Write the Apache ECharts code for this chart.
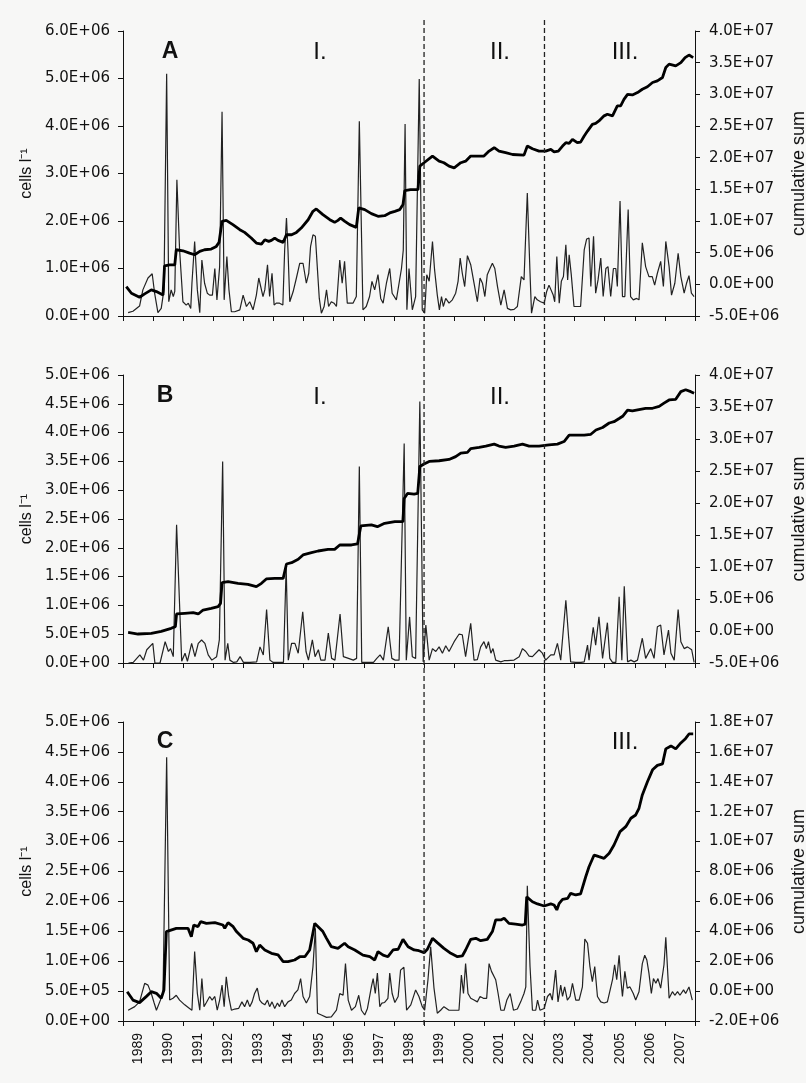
<!DOCTYPE html>
<html>
<head>
<meta charset="utf-8">
<script src="https://cdn.jsdelivr.net/npm/echarts@6/dist/echarts.min.js"></script>
<style>
  html, body { margin: 0; padding: 0; background: #f7f7f6; }
  #chart { width: 806px; height: 1083px; }
</style>
</head>
<body>
<div id="chart"></div>
<script>
// Year categories shown under the bottom panel
const YEARS = ['1989','1990','1991','1992','1993','1994','1995','1996','1997','1998',
               '1999','2000','2001','2002','2003','2004','2005','2006','2007'];

// Regime boundaries (start of 1999 and of 2003)
const BREAKS = [1999, 2003];

// Panel A: cell density (millions cells/l) and cumulative sum (millions), [year, value]
const cellsA = [
  [1989.17,0.07],[1989.33,0.10],[1989.55,0.21],[1989.66,0.55],[1989.83,0.80],[1989.97,0.89],
  [1990.05,0.48],[1990.16,0.07],[1990.27,0.16],[1990.36,0.55],[1990.45,5.10],[1990.52,0.30],
  [1990.60,0.55],[1990.67,0.41],[1990.72,0.52],[1990.79,2.87],[1990.88,1.39],[1990.99,0.30],
  [1991.10,0.23],[1991.17,0.27],[1991.25,0.16],[1991.29,0.69],[1991.38,1.57],[1991.47,0.55],
  [1991.55,0.07],[1991.62,1.18],[1991.71,0.69],[1991.80,0.48],[1991.88,0.44],[1991.97,0.44],
  [1992.05,1.00],[1992.12,0.34],[1992.21,1.04],[1992.29,4.30],[1992.36,0.34],[1992.45,1.25],
  [1992.52,0.55],[1992.60,0.09],[1992.71,0.09],[1992.88,0.13],[1992.99,0.44],[1993.10,0.20],
  [1993.21,0.30],[1993.32,0.13],[1993.43,0.44],[1993.51,0.80],[1993.57,0.80],[1993.65,0.41],
  [1993.71,0.55],[1993.80,1.08],[1993.87,0.41],[1993.95,0.90],[1994.02,0.23],[1994.09,0.27],
  [1994.20,0.27],[1994.31,0.23],[1994.37,1.39],[1994.43,2.06],[1994.48,1.39],[1994.54,0.30],
  [1994.65,0.51],[1994.76,0.80],[1994.87,1.11],[1994.98,1.11],[1995.09,0.69],[1995.17,0.90],
  [1995.23,1.46],[1995.31,1.71],[1995.39,1.68],[1995.46,0.97],[1995.52,0.37],[1995.59,0.06],
  [1995.68,0.20],[1995.76,0.55],[1995.83,0.20],[1995.92,0.30],[1996.01,0.27],[1996.09,0.20],
  [1996.20,1.18],[1996.28,0.69],[1996.36,1.15],[1996.45,0.27],[1996.54,0.27],[1996.64,0.27],
  [1996.75,0.41],[1996.85,4.10],[1996.97,0.13],[1997.08,0.20],[1997.19,0.41],[1997.27,0.73],
  [1997.36,0.55],[1997.47,0.87],[1997.56,0.37],[1997.64,0.27],[1997.75,0.69],[1997.86,1.00],
  [1997.94,0.48],[1998.08,0.34],[1998.25,1.00],[1998.31,1.39],[1998.37,4.04],[1998.43,0.13],
  [1998.50,1.00],[1998.61,0.13],[1998.72,0.41],[1998.84,4.99],[1998.94,0.13],[1999.02,0.06],
  [1999.09,0.87],[1999.17,0.73],[1999.28,1.57],[1999.35,0.97],[1999.44,0.44],[1999.51,0.13],
  [1999.58,0.41],[1999.64,0.20],[1999.72,0.37],[1999.83,0.27],[1999.94,0.34],[2000.05,0.48],
  [2000.13,0.73],[2000.20,1.22],[2000.27,0.90],[2000.35,0.62],[2000.44,1.27],[2000.55,1.08],
  [2000.66,0.69],[2000.77,0.30],[2000.86,0.80],[2000.94,0.69],[2001.02,0.41],[2001.10,0.87],
  [2001.19,1.00],[2001.27,1.11],[2001.35,1.00],[2001.44,0.62],[2001.55,0.23],[2001.66,0.55],
  [2001.77,0.16],[2001.88,0.13],[2001.99,0.14],[2002.10,0.20],[2002.23,0.83],[2002.32,0.76],
  [2002.43,2.59],[2002.52,0.90],[2002.57,0.06],[2002.68,0.41],[2002.76,0.34],[2002.87,0.30],
  [2002.99,0.27],[2003.07,0.51],[2003.15,0.65],[2003.21,0.69],[2003.29,0.44],[2003.34,0.30],
  [2003.41,1.25],[2003.49,0.27],[2003.56,0.73],[2003.63,0.83],[2003.71,1.50],[2003.77,0.76],
  [2003.82,1.29],[2003.89,0.87],[2003.98,0.20],[2004.09,0.20],[2004.20,0.20],[2004.32,1.39],
  [2004.40,1.62],[2004.48,1.64],[2004.54,0.62],[2004.63,1.68],[2004.70,0.48],[2004.78,0.76],
  [2004.87,1.22],[2004.95,0.41],[2005.04,1.00],[2005.11,1.04],[2005.20,0.41],[2005.29,1.00],
  [2005.37,1.00],[2005.42,0.62],[2005.51,2.42],[2005.59,0.41],[2005.67,0.41],[2005.78,2.24],
  [2005.86,0.41],[2005.95,0.34],[2006.06,0.37],[2006.14,0.34],[2006.25,1.54],[2006.36,1.04],
  [2006.47,0.83],[2006.58,0.83],[2006.66,0.65],[2006.75,0.90],[2006.86,1.15],[2006.95,0.62],
  [2007.03,1.57],[2007.14,1.04],[2007.22,0.44],[2007.33,0.69],[2007.44,1.32],[2007.53,0.83],
  [2007.64,0.48],[2007.72,0.69],[2007.80,0.85],[2007.88,0.48],[2007.97,0.41]
];
const cusumA = [
  [1989.11,-0.35],[1989.28,-1.41],[1989.55,-2.04],[1989.72,-1.51],[1989.94,-0.88],[1990.11,-1.14],
  [1990.33,-1.67],[1990.38,2.92],[1990.55,3.08],[1990.72,3.08],[1990.77,5.46],[1990.99,5.30],
  [1991.21,4.93],[1991.38,4.67],[1991.55,5.20],[1991.71,5.46],[1991.93,5.57],[1992.10,5.99],
  [1992.19,6.62],[1992.29,9.95],[1992.43,10.10],[1992.65,9.42],[1992.88,8.63],[1993.04,8.20],
  [1993.26,7.31],[1993.43,6.51],[1993.60,6.36],[1993.71,7.04],[1993.84,6.78],[1993.93,6.94],
  [1994.04,7.31],[1994.15,6.94],[1994.32,6.62],[1994.43,7.83],[1994.60,7.83],[1994.76,8.20],
  [1994.92,8.89],[1995.15,10.20],[1995.31,11.53],[1995.42,11.90],[1995.64,11.00],[1995.87,10.20],
  [1996.03,9.79],[1996.14,10.10],[1996.23,10.47],[1996.37,9.95],[1996.53,9.42],[1996.75,9.00],
  [1996.83,12.06],[1997.03,11.79],[1997.25,11.16],[1997.47,10.74],[1997.69,10.84],[1997.86,11.27],
  [1998.03,11.53],[1998.19,11.79],[1998.30,12.59],[1998.36,14.80],[1998.55,14.96],[1998.80,14.96],
  [1998.86,18.66],[1999.00,19.20],[1999.28,20.25],[1999.50,19.45],[1999.66,19.20],[1999.83,18.66],
  [2000.00,18.40],[2000.22,19.20],[2000.38,19.45],[2000.55,20.25],[2000.77,20.25],[2000.99,20.25],
  [2001.16,21.04],[2001.33,21.57],[2001.49,21.04],[2001.71,20.78],[2001.94,20.50],[2002.32,20.40],
  [2002.43,21.83],[2002.60,21.40],[2002.82,21.04],[2003.04,21.04],[2003.21,21.30],[2003.32,20.90],
  [2003.46,21.04],[2003.60,21.83],[2003.71,22.36],[2003.82,22.25],[2003.93,22.89],[2004.09,22.36],
  [2004.20,22.45],[2004.32,23.42],[2004.43,24.20],[2004.59,25.26],[2004.70,25.40],[2004.81,25.80],
  [2004.98,26.60],[2005.09,26.85],[2005.26,26.60],[2005.42,28.17],[2005.53,28.17],[2005.64,29.20],
  [2005.76,30.00],[2005.92,29.90],[2006.09,30.28],[2006.25,30.80],[2006.42,31.20],[2006.59,31.87],
  [2006.75,32.13],[2006.92,32.66],[2007.03,34.24],[2007.14,34.77],[2007.36,34.50],[2007.53,35.00],
  [2007.67,35.80],[2007.80,36.20],[2007.94,35.80]
];

// Panel B
const cellsB = [
  [1989.18,0.00],[1989.34,0.01],[1989.56,0.14],[1989.68,0.05],[1989.79,0.23],[1989.99,0.34],
  [1990.06,0.00],[1990.23,0.00],[1990.40,0.37],[1990.51,0.20],[1990.58,0.25],[1990.67,0.11],
  [1990.78,2.40],[1990.95,0.03],[1991.06,0.17],[1991.14,0.03],[1991.28,0.34],[1991.39,0.11],
  [1991.50,0.34],[1991.61,0.40],[1991.72,0.34],[1991.83,0.14],[1991.95,0.05],[1992.11,0.11],
  [1992.20,0.40],[1992.31,3.50],[1992.39,0.05],[1992.48,0.34],[1992.55,0.05],[1992.67,0.01],
  [1992.78,0.02],[1992.89,0.11],[1993.00,0.01],[1993.22,0.01],[1993.44,0.02],[1993.55,0.28],
  [1993.66,0.14],[1993.77,0.93],[1993.88,0.05],[1993.99,0.01],[1994.22,0.01],[1994.33,0.01],
  [1994.42,1.67],[1994.49,0.05],[1994.60,0.34],[1994.71,0.34],[1994.82,0.17],[1994.97,0.89],
  [1995.08,0.20],[1995.16,0.05],[1995.29,0.40],[1995.38,0.11],[1995.49,0.23],[1995.57,0.05],
  [1995.71,0.05],[1995.82,0.52],[1995.93,0.08],[1996.04,0.05],[1996.21,0.85],[1996.32,0.11],
  [1996.49,0.08],[1996.65,0.05],[1996.76,0.08],[1996.85,3.41],[1996.93,0.01],[1997.10,0.01],
  [1997.32,0.01],[1997.43,0.08],[1997.54,0.14],[1997.65,0.05],[1997.81,0.63],[1997.93,0.08],
  [1998.04,0.05],[1998.17,0.05],[1998.34,3.81],[1998.41,0.05],[1998.52,0.80],[1998.61,0.11],
  [1998.72,0.08],[1998.86,4.54],[1998.97,0.02],[1999.06,0.66],[1999.17,0.05],[1999.28,0.25],
  [1999.39,0.20],[1999.50,0.28],[1999.61,0.17],[1999.72,0.30],[1999.83,0.20],[2000.00,0.37],
  [2000.16,0.50],[2000.27,0.49],[2000.38,0.11],[2000.55,0.69],[2000.66,0.05],[2000.77,0.06],
  [2000.88,0.28],[2000.99,0.37],[2001.07,0.25],[2001.14,0.37],[2001.22,0.17],[2001.29,0.25],
  [2001.38,0.05],[2001.55,0.02],[2001.66,0.04],[2001.77,0.04],[2001.99,0.05],[2002.16,0.11],
  [2002.27,0.25],[2002.38,0.20],[2002.49,0.12],[2002.60,0.11],[2002.82,0.23],[2002.93,0.17],
  [2003.04,0.05],[2003.21,0.14],[2003.32,0.14],[2003.43,0.34],[2003.54,0.05],[2003.71,1.09],
  [2003.80,0.46],[2003.87,0.02],[2004.04,0.01],[2004.21,0.01],[2004.32,0.02],[2004.43,0.31],
  [2004.48,0.05],[2004.62,0.62],[2004.70,0.31],[2004.81,0.80],[2004.93,0.08],[2005.09,0.70],
  [2005.17,0.08],[2005.26,0.01],[2005.37,0.01],[2005.48,1.15],[2005.57,0.05],[2005.65,1.33],
  [2005.76,0.02],[2005.87,0.05],[2005.98,0.02],[2006.09,0.05],[2006.25,0.43],[2006.36,0.08],
  [2006.53,0.25],[2006.64,0.08],[2006.75,0.63],[2006.86,0.66],[2006.97,0.14],[2007.12,0.57],
  [2007.20,0.17],[2007.31,0.05],[2007.44,0.93],[2007.53,0.37],[2007.64,0.25],[2007.75,0.28],
  [2007.89,0.23],[2007.97,0.01]
];
const cusumB = [
  [1989.17,-0.21],[1989.50,-0.47],[1989.94,-0.36],[1990.27,-0.05],[1990.60,0.42],[1990.74,0.68],
  [1990.78,2.66],[1991.05,2.76],[1991.33,2.86],[1991.50,2.66],[1991.66,3.28],[1991.93,3.54],
  [1992.16,3.80],[1992.24,4.32],[1992.29,7.55],[1992.49,7.70],[1992.82,7.45],[1993.15,7.30],
  [1993.43,6.93],[1993.60,7.45],[1993.76,8.13],[1994.04,8.23],[1994.32,8.23],[1994.43,10.47],
  [1994.60,10.68],[1994.82,11.20],[1994.98,11.88],[1995.26,12.24],[1995.48,12.50],[1995.81,12.76],
  [1996.03,12.76],[1996.20,13.44],[1996.59,13.44],[1996.79,13.60],[1996.90,16.41],[1997.25,16.57],
  [1997.45,16.30],[1997.69,16.83],[1998.03,17.09],[1998.30,17.09],[1998.34,20.70],[1998.45,21.50],
  [1998.67,21.40],[1998.79,21.50],[1998.86,25.70],[1999.00,26.10],[1999.17,26.50],[1999.50,26.60],
  [1999.83,26.80],[2000.05,27.25],[2000.22,27.80],[2000.44,27.90],[2000.55,28.50],[2000.83,28.70],
  [2001.05,28.90],[2001.33,29.20],[2001.49,28.90],[2001.71,28.70],[2001.99,28.90],[2002.27,29.20],
  [2002.49,28.90],[2002.82,28.90],[2003.15,29.07],[2003.43,29.20],[2003.65,29.60],[2003.82,30.60],
  [2004.04,30.60],[2004.32,30.60],[2004.54,30.74],[2004.71,31.40],[2004.93,31.80],[2005.15,32.50],
  [2005.31,32.70],[2005.48,33.20],[2005.61,33.60],[2005.76,34.50],[2005.92,34.40],[2006.14,34.60],
  [2006.36,34.80],[2006.59,34.80],[2006.81,35.10],[2006.97,35.60],[2007.14,36.10],[2007.36,36.20],
  [2007.53,37.40],[2007.69,37.70],[2007.86,37.40],[2007.97,37.15]
];

// Panel C
const cellsC = [
  [1989.17,0.18],[1989.39,0.24],[1989.55,0.32],[1989.72,0.63],[1989.83,0.60],[1989.94,0.46],
  [1990.03,0.31],[1990.11,0.18],[1990.22,0.32],[1990.33,0.46],[1990.45,4.41],[1990.55,0.35],
  [1990.66,0.38],[1990.77,0.43],[1990.88,0.35],[1991.05,0.27],[1991.21,0.21],[1991.29,0.18],
  [1991.38,1.16],[1991.47,0.46],[1991.55,0.18],[1991.62,0.71],[1991.69,0.24],[1991.77,0.31],
  [1991.88,0.41],[1991.96,0.35],[1992.05,0.41],[1992.13,0.18],[1992.21,0.35],[1992.29,0.60],
  [1992.36,0.24],[1992.43,0.74],[1992.51,0.41],[1992.60,0.18],[1992.71,0.20],[1992.84,0.21],
  [1992.95,0.32],[1993.04,0.24],[1993.13,0.35],[1993.21,0.24],[1993.29,0.32],[1993.37,0.46],
  [1993.46,0.55],[1993.54,0.35],[1993.62,0.30],[1993.71,0.27],[1993.80,0.35],[1993.87,0.24],
  [1993.95,0.32],[1994.04,0.21],[1994.13,0.30],[1994.20,0.24],[1994.28,0.35],[1994.37,0.24],
  [1994.48,0.32],[1994.59,0.35],[1994.70,0.46],[1994.81,0.52],[1994.90,0.71],[1994.98,0.41],
  [1995.09,0.30],[1995.20,0.41],[1995.31,0.91],[1995.39,1.55],[1995.46,0.13],[1995.59,0.10],
  [1995.76,0.06],[1995.92,0.07],[1996.09,0.18],[1996.20,0.46],[1996.31,0.43],[1996.39,0.96],
  [1996.48,0.35],[1996.59,0.18],[1996.72,0.24],[1996.83,0.43],[1996.92,0.18],[1997.03,0.10],
  [1997.12,0.21],[1997.25,0.57],[1997.31,0.71],[1997.38,0.46],[1997.45,0.80],[1997.53,0.24],
  [1997.60,0.30],[1997.69,0.31],[1997.80,0.38],[1997.86,0.80],[1997.94,0.46],[1998.03,0.31],
  [1998.14,0.41],[1998.22,0.85],[1998.33,0.90],[1998.42,0.18],[1998.56,0.27],[1998.72,0.52],
  [1998.83,0.41],[1998.94,0.24],[1999.02,0.18],[1999.13,0.69],[1999.22,1.24],[1999.33,0.55],
  [1999.44,0.13],[1999.55,0.18],[1999.66,0.24],[1999.83,0.18],[1999.99,0.18],[2000.16,0.18],
  [2000.24,0.77],[2000.31,0.46],[2000.38,0.96],[2000.46,0.46],[2000.55,0.38],[2000.66,0.35],
  [2000.77,0.32],[2000.86,0.41],[2000.97,0.38],[2001.08,0.38],[2001.16,0.96],[2001.24,0.83],
  [2001.30,0.83],[2001.38,0.69],[2001.46,0.46],[2001.55,0.18],[2001.66,0.18],[2001.75,0.35],
  [2001.86,0.46],[2001.97,0.18],[2002.10,0.20],[2002.21,0.32],[2002.32,0.46],[2002.38,0.57],
  [2002.43,2.26],[2002.52,0.91],[2002.60,0.18],[2002.71,0.18],[2002.77,0.35],[2002.85,0.18],
  [2002.99,0.21],[2003.10,0.41],[2003.19,0.46],[2003.26,0.35],[2003.37,0.85],[2003.45,0.32],
  [2003.54,0.60],[2003.60,0.41],[2003.67,0.57],[2003.76,0.35],[2003.85,0.41],[2003.93,0.63],
  [2004.04,0.35],[2004.15,0.35],[2004.26,0.57],[2004.34,1.37],[2004.43,1.30],[2004.51,0.91],
  [2004.59,0.66],[2004.67,0.91],[2004.76,0.41],[2004.87,0.32],[2004.98,0.30],[2005.09,0.32],
  [2005.26,0.69],[2005.33,0.94],[2005.40,0.69],[2005.48,1.10],[2005.53,0.74],[2005.59,0.41],
  [2005.67,0.83],[2005.75,0.55],[2005.84,0.57],[2005.95,0.46],[2006.03,0.35],[2006.14,0.49],
  [2006.25,0.96],[2006.33,1.10],[2006.40,1.02],[2006.47,0.80],[2006.55,0.46],[2006.62,0.71],
  [2006.70,0.63],[2006.77,0.71],[2006.86,0.55],[2006.97,0.94],[2007.03,1.40],[2007.14,0.38],
  [2007.25,0.49],[2007.33,0.43],[2007.42,0.49],[2007.50,0.43],[2007.62,0.52],[2007.69,0.46],
  [2007.80,0.57],[2007.91,0.35]
];
const cusumC = [
  [1989.14,-0.04],[1989.33,-0.60],[1989.55,-0.77],[1989.77,-0.37],[1989.94,-0.04],[1990.11,-0.15],
  [1990.27,-0.48],[1990.36,0.07],[1990.44,3.98],[1990.77,4.20],[1991.16,4.20],[1991.27,3.64],
  [1991.35,4.42],[1991.49,4.31],[1991.58,4.65],[1991.77,4.53],[1992.05,4.58],[1992.32,4.42],
  [1992.38,4.20],[1992.49,4.58],[1992.66,4.31],[1992.77,3.98],[1992.99,3.53],[1993.16,3.42],
  [1993.32,3.20],[1993.43,2.64],[1993.54,3.08],[1993.71,2.75],[1993.93,2.53],[1994.15,2.42],
  [1994.32,1.97],[1994.48,1.97],[1994.70,2.08],[1994.87,2.30],[1995.04,2.30],[1995.20,2.75],
  [1995.37,4.53],[1995.48,4.31],[1995.64,3.98],[1995.76,3.53],[1995.92,2.97],[1996.14,2.86],
  [1996.36,3.20],[1996.48,2.97],[1996.70,2.75],[1996.97,2.41],[1997.20,2.30],[1997.36,2.08],
  [1997.47,2.64],[1997.64,2.41],[1997.80,2.30],[1997.97,2.75],[1998.14,2.80],[1998.30,3.46],
  [1998.47,2.97],[1998.67,2.75],[1998.83,2.70],[1999.00,2.57],[1999.11,2.80],[1999.28,3.53],
  [1999.44,3.24],[1999.66,2.86],[1999.89,2.53],[2000.11,2.30],[2000.27,2.35],[2000.38,2.75],
  [2000.55,3.46],[2000.72,3.53],[2000.88,3.37],[2001.10,3.46],[2001.27,3.98],[2001.38,4.76],
  [2001.55,4.76],[2001.66,4.87],[2001.82,4.53],[2002.04,4.48],[2002.27,4.42],[2002.36,4.48],
  [2002.41,6.30],[2002.60,5.98],[2002.77,5.83],[2002.99,5.69],[2003.21,5.83],[2003.32,5.76],
  [2003.41,5.43],[2003.49,5.87],[2003.60,6.14],[2003.77,6.20],[2003.87,6.54],[2004.04,6.43],
  [2004.20,6.50],[2004.37,7.65],[2004.48,8.32],[2004.65,9.10],[2004.81,8.99],[2004.98,8.88],
  [2005.15,9.22],[2005.31,9.77],[2005.51,10.67],[2005.70,11.00],[2005.87,11.56],[2006.03,11.78],
  [2006.14,12.23],[2006.25,13.12],[2006.42,14.00],[2006.59,14.80],[2006.75,15.10],[2006.92,15.20],
  [2007.03,16.20],[2007.20,16.40],[2007.36,16.20],[2007.53,16.60],[2007.69,16.90],[2007.80,17.20],
  [2007.94,17.20]
];

// Scientific tick labels such as 5.0E+06 (axis values are in millions)
function sci(v) {
  if (Math.abs(v) < 1e-9) return '0.0E+00';
  const sign = v < 0 ? '-' : '';
  const a = Math.abs(v);
  let e = Math.floor(Math.log10(a) + 1e-9);
  let m = (a / Math.pow(10, e)).toFixed(1);
  if (m === '10.0') { e += 1; m = '1.0'; }
  return sign + m + 'E' + (e < 0 ? '-' : '+') + String(Math.abs(e)).padStart(2, '0');
}

const TEXT_FONT = 'Liberation Sans, Arial, sans-serif';
const TICK_FONT = 'DejaVu Sans, Liberation Sans, sans-serif';
const INK = '#111';

const panels = [
  { top: 31,  height: 285, leftMax: 6, leftStep: 1,   rightMin: -5, rightMax: 40, rightStep: 5,
    cells: cellsA, cusum: cusumA, years: false },
  { top: 375, height: 288, leftMax: 5, leftStep: 0.5, rightMin: -5, rightMax: 40, rightStep: 5,
    cells: cellsB, cusum: cusumB, years: false },
  { top: 722, height: 299, leftMax: 5, leftStep: 0.5, rightMin: -2, rightMax: 18, rightStep: 2,
    cells: cellsC, cusum: cusumC, years: true }
];

const lineStyleAxis = { color: INK, width: 1 };
const axisTick = { show: true, length: 5, lineStyle: { color: INK, width: 1 } };
const tickLabel = {
  fontFamily: TICK_FONT, fontSize: 15, color: INK,
  showMinLabel: true, showMaxLabel: true,
  formatter: v => sci(v * 1e6)
};

const grid = [], xAxis = [], yAxis = [], series = [];
panels.forEach((p, i) => {
  grid.push({ left: 123, right: 111, top: p.top, height: p.height, outerBoundsMode: 'none' });
  // hidden numeric time axis carrying the data
  xAxis.push({ type: 'value', gridIndex: i, position: 'top', min: 1989, max: 2008, show: false });
  // visible year axis: ticks at year boundaries, labels centred in each year
  xAxis.push({
    type: 'category', gridIndex: i, position: 'bottom', data: YEARS, boundaryGap: true,
    axisLine: { show: true, onZero: false, lineStyle: lineStyleAxis },
    axisTick: Object.assign({ interval: 0 }, axisTick),
    axisLabel: { show: p.years, interval: 0, rotate: 90, margin: 12,
                 fontFamily: TEXT_FONT, fontSize: 14, color: INK },
    splitLine: { show: false }
  });
  yAxis.push({
    type: 'value', gridIndex: i, position: 'left', min: 0, max: p.leftMax, interval: p.leftStep,
    axisLine: { show: true, onZero: false, lineStyle: lineStyleAxis },
    axisTick, splitLine: { show: false },
    axisLabel: Object.assign({ margin: 13 }, tickLabel),
    name: 'cells l\u207B\u00B9', nameLocation: 'middle', nameRotate: 90, nameGap: 88,
    nameTextStyle: { fontFamily: TEXT_FONT, fontSize: 16, color: INK }
  });
  yAxis.push({
    type: 'value', gridIndex: i, position: 'right', min: p.rightMin, max: p.rightMax, interval: p.rightStep,
    axisLine: { show: true, onZero: false, lineStyle: lineStyleAxis },
    axisTick, splitLine: { show: false },
    axisLabel: Object.assign({ margin: 14 }, tickLabel),
    name: 'cumulative sum', nameLocation: 'middle', nameRotate: 90, nameGap: 95,
    nameTextStyle: { fontFamily: TEXT_FONT, fontSize: 18, color: INK }
  });
  series.push({
    type: 'line', xAxisIndex: 2 * i, yAxisIndex: 2 * i, data: p.cells,
    symbol: 'none', lineStyle: { color: '#222', width: 1.2 }, z: 2
  });
  series.push({
    type: 'line', xAxisIndex: 2 * i, yAxisIndex: 2 * i + 1, data: p.cusum,
    symbol: 'none', lineStyle: { color: '#000', width: 2.8 }, z: 3
  });
});

const chart = echarts.init(document.getElementById('chart'), null, { renderer: 'canvas' });
chart.setOption({
  backgroundColor: '#f7f7f6',
  animation: false,
  grid, xAxis, yAxis, series
});

// Regime boundaries drawn through all three panels, plus panel letters and regime numerals
const graphic = [];
BREAKS.forEach(yr => {
  const x = chart.convertToPixel({ xAxisIndex: 0 }, yr);
  graphic.push({
    type: 'line', z: 10, silent: true,
    shape: { x1: x, y1: 20, x2: x, y2: 1028 },
    style: { stroke: '#222', lineWidth: 1.3, lineDash: [5, 3] }
  });
});
const labels = [
  ['A', 170, 52, true], ['I.', 320, 52, false], ['II.', 500, 52, false], ['III.', 625, 52, false],
  ['B', 165, 396, true], ['I.', 320, 397, false], ['II.', 500, 397, false],
  ['C', 165, 742, true], ['III.', 625, 742, false]
];
labels.forEach(([t, x, y, bold]) => {
  graphic.push({
    type: 'text', z: 10, silent: true, x, y,
    style: {
      text: t, fill: INK,
      font: (bold ? 'bold 23px ' : '24px ') + TEXT_FONT,
      textAlign: 'center', textVerticalAlign: 'middle',
      align: 'center', verticalAlign: 'middle'
    }
  });
});
chart.setOption({ graphic });
</script>
</body>
</html>
